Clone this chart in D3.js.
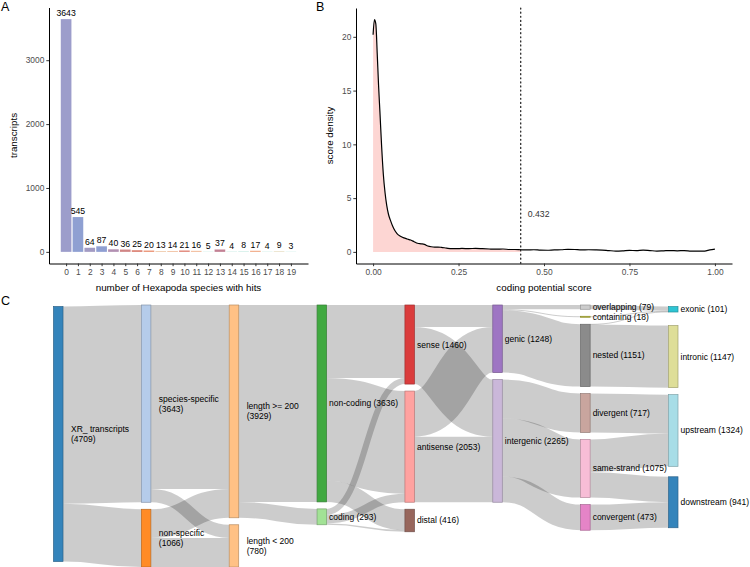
<!DOCTYPE html>
<html>
<head>
<meta charset="utf-8">
<script src="https://cdn.jsdelivr.net/npm/d3@7"></script>
<style>
  body { margin: 0; background: #fff; }
  svg { font-family: "Liberation Sans", Arial, sans-serif; }
</style>
</head>
<body>
<svg id="fig" width="750" height="567"></svg>
<script>
// ---- panel A: hits per number of species
let hitCounts = d3.range(20);
let transcripts = [3643, 545, 64, 87, 40, 36, 25, 20, 13, 14, 21, 16, 5, 37, 4, 8, 17, 4, 9, 3];
let barColors = ['#9c9dcb', '#8fa0d2', '#a39bc3', '#8f9fd2', '#b290b2', '#d08585', '#d97a6c', '#e98c6c',
                 '#efc8a8', '#f0bf9e', '#df7f72', '#f2b998', '#c6ebe2', '#c28194', '#a0dccf', '#b8e6dc',
                 '#f1a780', '#b0e4d8', '#e0d3b0', '#a6dfd2'];
let countTicks = [0, 1000, 2000, 3000];

// ---- panel B: coding potential density
let scoreX = [0, 0.004, 0.008, 0.012, 0.016, 0.020, 0.025, 0.030, 0.035, 0.040, 0.045, 0.050, 0.060, 0.070,
              0.080, 0.090, 0.100, 0.110, 0.120, 0.130, 0.140, 0.150, 0.160, 0.170, 0.180, 0.190, 0.200, 0.215,
              0.230, 0.245, 0.260, 0.280, 0.300, 0.320, 0.340, 0.360, 0.380, 0.400, 0.415, 0.432, 0.450, 0.470,
              0.490, 0.510, 0.530, 0.550, 0.570, 0.590, 0.610, 0.630, 0.650, 0.670, 0.690, 0.710, 0.730, 0.750,
              0.770, 0.790, 0.810, 0.830, 0.850, 0.870, 0.890, 0.910, 0.930, 0.950, 0.970, 0.985, 1.000];
let scoreDensity = [20.2, 21.6, 21.2, 18.5, 15.5, 13.0, 9.8, 7.2, 5.5, 4.3, 3.5, 3.0, 2.2, 1.7,
                    1.45, 1.3, 1.2, 1.1, 0.95, 0.8, 0.75, 0.7, 0.55, 0.48, 0.45, 0.45, 0.42, 0.35,
                    0.3, 0.3, 0.32, 0.3, 0.33, 0.3, 0.27, 0.25, 0.27, 0.22, 0.22, 0.2, 0.18, 0.2,
                    0.16, 0.15, 0.19, 0.2, 0.24, 0.22, 0.18, 0.2, 0.19, 0.17, 0.12, 0.08, 0.1, 0.14,
                    0.12, 0.16, 0.12, 0.08, 0.1, 0.12, 0.1, 0.12, 0.08, 0.07, 0.08, 0.18, 0.25];
let scoreCutoff = 0.432;
let densityTicks = [0, 5, 10, 15, 20];
let scoreTicks = [0, 0.25, 0.5, 0.75, 1];

// ---- panel C: transcript classification flows
let nodeNames = ['XR_ transcripts\n(4709)', 'species-specific\n(3643)', 'non-specific\n(1066)',
                 'length >= 200\n(3929)', 'length < 200\n(780)', 'non-coding (3636)', 'coding (293)',
                 'sense (1460)', 'antisense (2053)', 'distal (416)', 'genic (1248)', 'intergenic (2265)',
                 'overlapping (79)', 'containing (18)', 'nested (1151)', 'divergent (717)',
                 'same-strand (1075)', 'convergent (473)', 'exonic (101)', 'intronic (1147)',
                 'upstream (1324)', 'downstream (941)'];
let nodeGroups = ['XR', 'species', 'nonspecific', 'length', 'length', 'noncoding', 'coding',
                  'sense', 'antisense', 'distal', 'genic', 'intergenic',
                  'overlapping', 'containing', 'nested', 'divergent', 'samestrand', 'convergent',
                  'exonic', 'intronic', 'upstream', 'downstream'];
let groupOrder = ['XR', 'species', 'nonspecific', 'length', 'noncoding', 'coding', 'sense', 'antisense',
                  'genic', 'intergenic', 'distal', 'divergent', 'convergent', 'samestrand', 'nested',
                  'overlapping', 'containing', 'intronic', 'exonic', 'upstream', 'downstream'];
let linkSource = [0, 0, 1, 1, 2, 2, 3, 3, 5, 5, 5, 6, 6, 6, 7, 7, 8, 8, 10, 10, 10, 11, 11, 11, 12, 13, 14, 14, 15, 16, 16, 17];
let linkTarget = [1, 2, 3, 4, 3, 4, 5, 6, 7, 8, 9, 7, 8, 9, 10, 11, 10, 11, 12, 13, 14, 15, 16, 17, 18, 18, 18, 19, 20, 20, 21, 21];
let linkValue  = [3643, 1066, 3399, 244, 530, 536, 3636, 293, 1348, 1898, 390, 112, 155, 26, 406, 1054, 842, 1211,
                  79, 18, 1151, 717, 1075, 473, 79, 18, 4, 1147, 717, 607, 468, 473];
let category20 = ['#1f77b4', '#aec7e8', '#ff7f0e', '#ffbb78', '#2ca02c', '#98df8a', '#d62728', '#ff9896',
                  '#9467bd', '#c5b0d5', '#8c564b', '#c49c94', '#e377c2', '#f7b6d2', '#7f7f7f', '#c7c7c7',
                  '#bcbd22', '#dbdb8d', '#17becf', '#9edae5'];

let svg = d3.select('#fig');

function styleAxis(g) {
  g.attr('font-family', null).attr('font-size', null);
  g.select('.domain').attr('stroke', '#000').attr('stroke-width', 1);
  g.selectAll('.tick line').attr('stroke', '#333').attr('stroke-width', 1);
  g.selectAll('.tick text').attr('fill', '#4d4d4d').style('font-size', '8.4px');
}
function expand(lo, hi) {
  let p = (hi - lo) * 0.05;
  return [lo - p, hi + p];
}

// ================= A
let xA = d3.scaleLinear().domain(expand(-0.45, 19.45)).range([49, 308]);
let yA = d3.scaleLinear().domain(expand(0, d3.max(transcripts))).range([263.5, 7.5]);

svg.append('g').selectAll('rect')
   .data(transcripts)
   .enter()
   .append('rect')
   .attr('x', (d, i) => xA(hitCounts[i] - 0.45))
   .attr('width', xA(0.9) - xA(0))
   .attr('y', d => yA(d))
   .attr('height', d => yA(0) - yA(d))
   .attr('fill', (d, i) => barColors[i]);

svg.append('g').selectAll('text')
   .data(transcripts)
   .enter()
   .append('text')
   .attr('x', (d, i) => xA(hitCounts[i]))
   .attr('y', d => yA(d) - 3)
   .attr('text-anchor', 'middle')
   .style('font-size', '8.7px')
   .text(d => d);

svg.append('g')
   .attr('transform', 'translate(0,263.5)')
   .call(d3.axisBottom(xA).tickValues(hitCounts).tickFormat(d3.format('d')).tickSize(2.7).tickSizeOuter(0).tickPadding(3))
   .call(styleAxis);
svg.append('g')
   .attr('transform', 'translate(49,0)')
   .call(d3.axisLeft(yA).tickValues(countTicks).tickFormat(d3.format('d')).tickSize(2.7).tickSizeOuter(0).tickPadding(2))
   .call(styleAxis);

svg.append('text').attr('x', 178.5).attr('y', 290.5).attr('text-anchor', 'middle')
   .style('font-size', '9.8px').text('number of Hexapoda species with hits');
svg.append('text').attr('transform', 'translate(16.5,135.5) rotate(-90)').attr('text-anchor', 'middle')
   .style('font-size', '9.8px').text('transcripts');

// ================= B
let xB = d3.scaleLinear().domain(expand(0, 1)).range([356, 732]);
let yB = d3.scaleLinear().domain(expand(0, d3.max(scoreDensity))).range([263.5, 8]);
let densityPts = scoreX.map((x, i) => [x, scoreDensity[i]]);

svg.append('path')
   .datum(densityPts.filter(d => d[0] <= scoreCutoff))
   .attr('fill', '#F8766D')
   .attr('fill-opacity', 0.3)
   .attr('d', d3.area().curve(d3.curveMonotoneX).x(d => xB(d[0])).y0(yB(0)).y1(d => yB(d[1])));
svg.append('path')
   .datum(densityPts)
   .attr('fill', 'none')
   .attr('stroke', '#000')
   .attr('stroke-width', 1.2)
   .attr('d', d3.line().curve(d3.curveMonotoneX).x(d => xB(d[0])).y(d => yB(d[1])));

svg.append('line')
   .attr('x1', xB(scoreCutoff)).attr('x2', xB(scoreCutoff))
   .attr('y1', yB.range()[1]).attr('y2', yB.range()[0])
   .attr('stroke', '#000').attr('stroke-width', 1.1)
   .attr('stroke-dasharray', '1.1,3').attr('stroke-linecap', 'round');
svg.append('text')
   .attr('x', xB(scoreCutoff) + 7).attr('y', yB(3.5) + 3)
   .style('font-size', '8.7px').attr('fill', '#333')
   .text(scoreCutoff);

svg.append('g')
   .attr('transform', 'translate(0,263.5)')
   .call(d3.axisBottom(xB).tickValues(scoreTicks).tickFormat(d3.format('.2f')).tickSize(2.7).tickSizeOuter(0).tickPadding(3))
   .call(styleAxis);
svg.append('g')
   .attr('transform', 'translate(356,0)')
   .call(d3.axisLeft(yB).tickValues(densityTicks).tickSize(2.7).tickSizeOuter(0).tickPadding(2))
   .call(styleAxis);

svg.append('text').attr('x', 544).attr('y', 290.5).attr('text-anchor', 'middle')
   .style('font-size', '9.8px').text('coding potential score');
svg.append('text').attr('transform', 'translate(333,135.5) rotate(-90)').attr('text-anchor', 'middle')
   .style('font-size', '9.8px').text('score density');

// ================= C : sankey layout (same steps as d3-sankey 0.12, node order kept)
let nodes = nodeNames.map((name, i) => ({ index: i, name: name, group: nodeGroups[i], sourceLinks: [], targetLinks: [] }));
let links = linkValue.map((v, i) => ({ index: i, source: nodes[linkSource[i]], target: nodes[linkTarget[i]], value: v }));
links.forEach(l => { l.source.sourceLinks.push(l); l.target.targetLinks.push(l); });
nodes.forEach(n => {
  n.value = Math.max(d3.sum(n.sourceLinks, l => l.value), d3.sum(n.targetLinks, l => l.value));
});

let remaining = nodes, depth = 0;
while (remaining.length) {
  let next = [];
  remaining.forEach(n => {
    n.depth = depth;
    n.sourceLinks.forEach(l => { if (next.indexOf(l.target) < 0) next.push(l.target); });
  });
  remaining = next;
  depth++;
}
let nodeWidth = 9.5;
let xC = d3.scaleLinear().domain([0, depth - 1]).range([53.5, 668.5]);
let sy0 = 305, sy1 = 567, py = 7, iterations = 6;
let columns = d3.groups(nodes, n => n.depth).sort((a, b) => a[0] - b[0]).map(d => d[1]);

let byY = (a, b) => a.y0 - b.y0;
let bySource = (a, b) => byY(a.source, b.source) || a.index - b.index;
let byTarget = (a, b) => byY(a.target, b.target) || a.index - b.index;

function reorderLinks(col) {
  col.forEach(n => { n.sourceLinks.sort(byTarget); n.targetLinks.sort(bySource); });
}
function reorderNodeLinks(n) {
  n.targetLinks.forEach(l => l.source.sourceLinks.sort(byTarget));
  n.sourceLinks.forEach(l => l.target.targetLinks.sort(bySource));
}
function targetTop(source, target) {
  let y = source.y0 - (source.sourceLinks.length - 1) * py / 2;
  for (const l of source.sourceLinks) { if (l.target === target) break; y += l.width + py; }
  for (const l of target.targetLinks) { if (l.source === source) break; y -= l.width; }
  return y;
}
function sourceTop(source, target) {
  let y = target.y0 - (target.targetLinks.length - 1) * py / 2;
  for (const l of target.targetLinks) { if (l.source === source) break; y += l.width + py; }
  for (const l of source.sourceLinks) { if (l.target === target) break; y -= l.width; }
  return y;
}
function pushDown(col, y, i, alpha) {
  for (; i < col.length; ++i) {
    let n = col[i], dy = (y - n.y0) * alpha;
    if (dy > 1e-6) { n.y0 += dy; n.y1 += dy; }
    y = n.y1 + py;
  }
}
function pushUp(col, y, i, alpha) {
  for (; i >= 0; --i) {
    let n = col[i], dy = (n.y1 - y) * alpha;
    if (dy > 1e-6) { n.y0 -= dy; n.y1 -= dy; }
    y = n.y0 - py;
  }
}
function resolveCollisions(col, alpha) {
  let i = col.length >> 1, s = col[i];
  pushUp(col, s.y0 - py, i - 1, alpha);
  pushDown(col, s.y1 + py, i + 1, alpha);
  pushUp(col, sy1, col.length - 1, alpha);
  pushDown(col, sy0, 0, alpha);
}

// initial stacking
let ky = d3.min(columns, c => (sy1 - sy0 - (c.length - 1) * py) / d3.sum(c, n => n.value));
columns.forEach(col => {
  let y = sy0;
  col.forEach(n => {
    n.y0 = y; n.y1 = y + n.value * ky; y = n.y1 + py;
    n.sourceLinks.forEach(l => { l.width = l.value * ky; });
  });
  let extra = (sy1 - y + py) / (col.length + 1);
  col.forEach((n, i) => { n.y0 += extra * (i + 1); n.y1 += extra * (i + 1); });
  reorderLinks(col);
});

for (let it = 0; it < iterations; ++it) {
  let alpha = Math.pow(0.99, it);
  let beta = Math.max(1 - alpha, (it + 1) / iterations);
  for (let i = columns.length - 2; i >= 0; --i) {
    columns[i].forEach(s => {
      let y = 0, w = 0;
      s.sourceLinks.forEach(l => {
        let v = l.value * (l.target.depth - s.depth);
        y += sourceTop(s, l.target) * v; w += v;
      });
      if (!(w > 0)) return;
      let dy = (y / w - s.y0) * alpha;
      s.y0 += dy; s.y1 += dy;
      reorderNodeLinks(s);
    });
    resolveCollisions(columns[i], beta);
  }
  for (let i = 1; i < columns.length; ++i) {
    columns[i].forEach(t => {
      let y = 0, w = 0;
      t.targetLinks.forEach(l => {
        let v = l.value * (t.depth - l.source.depth);
        y += targetTop(l.source, t) * v; w += v;
      });
      if (!(w > 0)) return;
      let dy = (y / w - t.y0) * alpha;
      t.y0 += dy; t.y1 += dy;
      reorderNodeLinks(t);
    });
    resolveCollisions(columns[i], beta);
  }
}
nodes.forEach(n => {
  let a = n.y0, b = n.y0;
  n.sourceLinks.forEach(l => { l.y0 = a + l.width / 2; a += l.width; });
  n.targetLinks.forEach(l => { l.y1 = b + l.width / 2; b += l.width; });
});

let color = d3.scaleOrdinal(groupOrder, category20);
let linkGen = d3.linkHorizontal()
  .source(d => [xC(d.source.depth) + nodeWidth, d.y0])
  .target(d => [xC(d.target.depth), d.y1]);

let sankey = svg.append('g');
sankey.append('g').selectAll('path')
      .data(links)
      .enter()
      .append('path')
      .attr('d', linkGen)
      .attr('fill', 'none')
      .attr('stroke', '#000')
      .attr('stroke-opacity', 0.2)
      .attr('stroke-width', d => Math.max(1, d.width));

let nodeG = sankey.append('g').selectAll('g')
      .data(nodes)
      .enter()
      .append('g')
      .attr('transform', d => 'translate(' + xC(d.depth) + ',' + d.y0 + ')');
nodeG.append('rect')
     .attr('width', nodeWidth)
     .attr('height', d => Math.max(1, d.y1 - d.y0))
     .attr('fill', d => color(d.group))
     .attr('stroke', d => d3.rgb(color(d.group)).darker(1))
     .attr('stroke-width', 0.7)
     .style('opacity', 0.9);
nodeG.append('text')
     .attr('y', d => (d.y1 - d.y0) / 2)
     .style('font-size', '8.5px')
     .each(function (d) {
       let lines = d.name.split('\n');
       let t = d3.select(this);
       lines.forEach((ln, i) => {
         t.append('tspan')
          .attr('x', nodeWidth + (d.depth < 3 ? 8 : 2.5))
          .attr('dy', i === 0 ? (0.35 - (lines.length - 1) * 0.6) + 'em' : '1.2em')
          .text(ln);
       });
     });

// panel letters
svg.append('text').attr('x', 1).attr('y', 11).style('font-size', '12.5px').text('A');
svg.append('text').attr('x', 316).attr('y', 11).style('font-size', '12.5px').text('B');
svg.append('text').attr('x', 1).attr('y', 305).style('font-size', '12.5px').text('C');
</script>
</body>
</html>
